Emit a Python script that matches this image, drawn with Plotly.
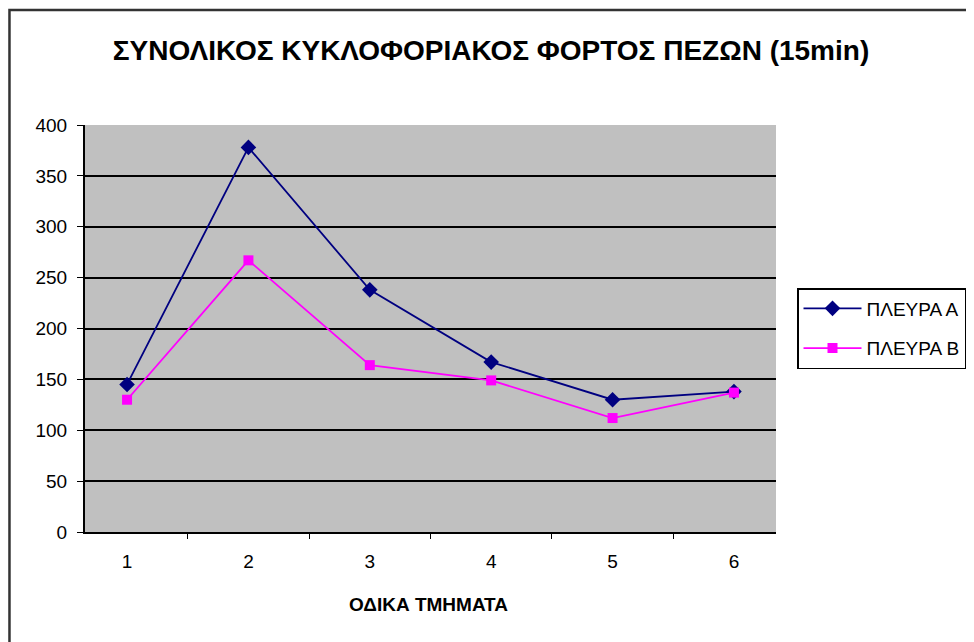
import plotly.graph_objects as go

# road segments and pedestrian counts (15 min) per side
segments = ["1", "2", "3", "4", "5", "6"]
side_a = [145, 378, 238, 167, 130, 138]
side_b = [130, 267, 164, 149, 112, 137]
series_names = ["ΠΛΕΥΡΑ Α", "ΠΛΕΥΡΑ Β"]
y_ticks = [0, 50, 100, 150, 200, 250, 300, 350, 400]

FONT = "Liberation Sans, Arial, sans-serif"

fig = go.Figure()
fig.add_trace(go.Scatter(x=segments, y=side_a, mode="lines+markers", name=series_names[0],
                         legendgroup="a",
                         line=dict(color="#000080", width=1.8),
                         marker=dict(symbol="diamond", size=12, color="#000080")))
fig.add_trace(go.Scatter(x=segments, y=side_b, mode="lines+markers", name=series_names[1],
                         legendgroup="b",
                         line=dict(color="#FF00FF", width=1.8),
                         marker=dict(symbol="square", size=10, color="#FF00FF")))

# outer chart border (right and bottom sides run off the page)
fig.add_shape(type="rect", xref="paper", yref="paper",
              x0=-0.1093, x1=1.35, y0=-0.35, y1=1.2826,
              line=dict(color="#333333", width=2.5), layer="below")

# x axis title placed by hand
fig.add_annotation(text="<b>ΟΔΙΚΑ ΤΜΗΜΑΤΑ</b>", xref="paper", yref="paper",
                   x=0.497, y=-0.179, xanchor="center", yanchor="middle",
                   showarrow=False, font=dict(family=FONT, size=19))

fig.update_layout(
    width=966, height=634,
    margin=dict(l=77, r=198, t=117, b=110, autoexpand=False),
    paper_bgcolor="white", plot_bgcolor="#C0C0C0",
    font=dict(family=FONT, color="black", size=19),
    title=dict(text="<b>ΣΥΝΟΛΙΚΟΣ ΚΥΚΛΟΦΟΡΙΑΚΟΣ ΦΟΡΤΟΣ ΠΕΖΩΝ (15min)</b>",
               x=0.5, xanchor="center", y=0.9338, yanchor="middle",
               font=dict(family=FONT, size=28)),
    legend=dict(x=1.0304, xanchor="left", y=0.5995, yanchor="top",
                bordercolor="black", borderwidth=1.5, bgcolor="white",
                font=dict(family=FONT, size=19), itemwidth=58,
                traceorder="grouped", tracegroupgap=12),
    showlegend=True,
)
fig.update_xaxes(type="category", tickson="boundaries", ticks="outside", ticklen=5,
                 tickcolor="black", showline=True, linecolor="black", linewidth=2,
                 showgrid=False, ticklabelstandoff=11,
                 tickfont=dict(size=19))
fig.update_yaxes(range=[0, 400], tickvals=y_ticks, ticks="outside", ticklen=6,
                 tickcolor="black", showline=True, linecolor="black", linewidth=2,
                 showgrid=True, gridcolor="black", gridwidth=1.5, zeroline=False,
                 ticklabelstandoff=6, tickfont=dict(size=19))

fig.write_html("out.html")
